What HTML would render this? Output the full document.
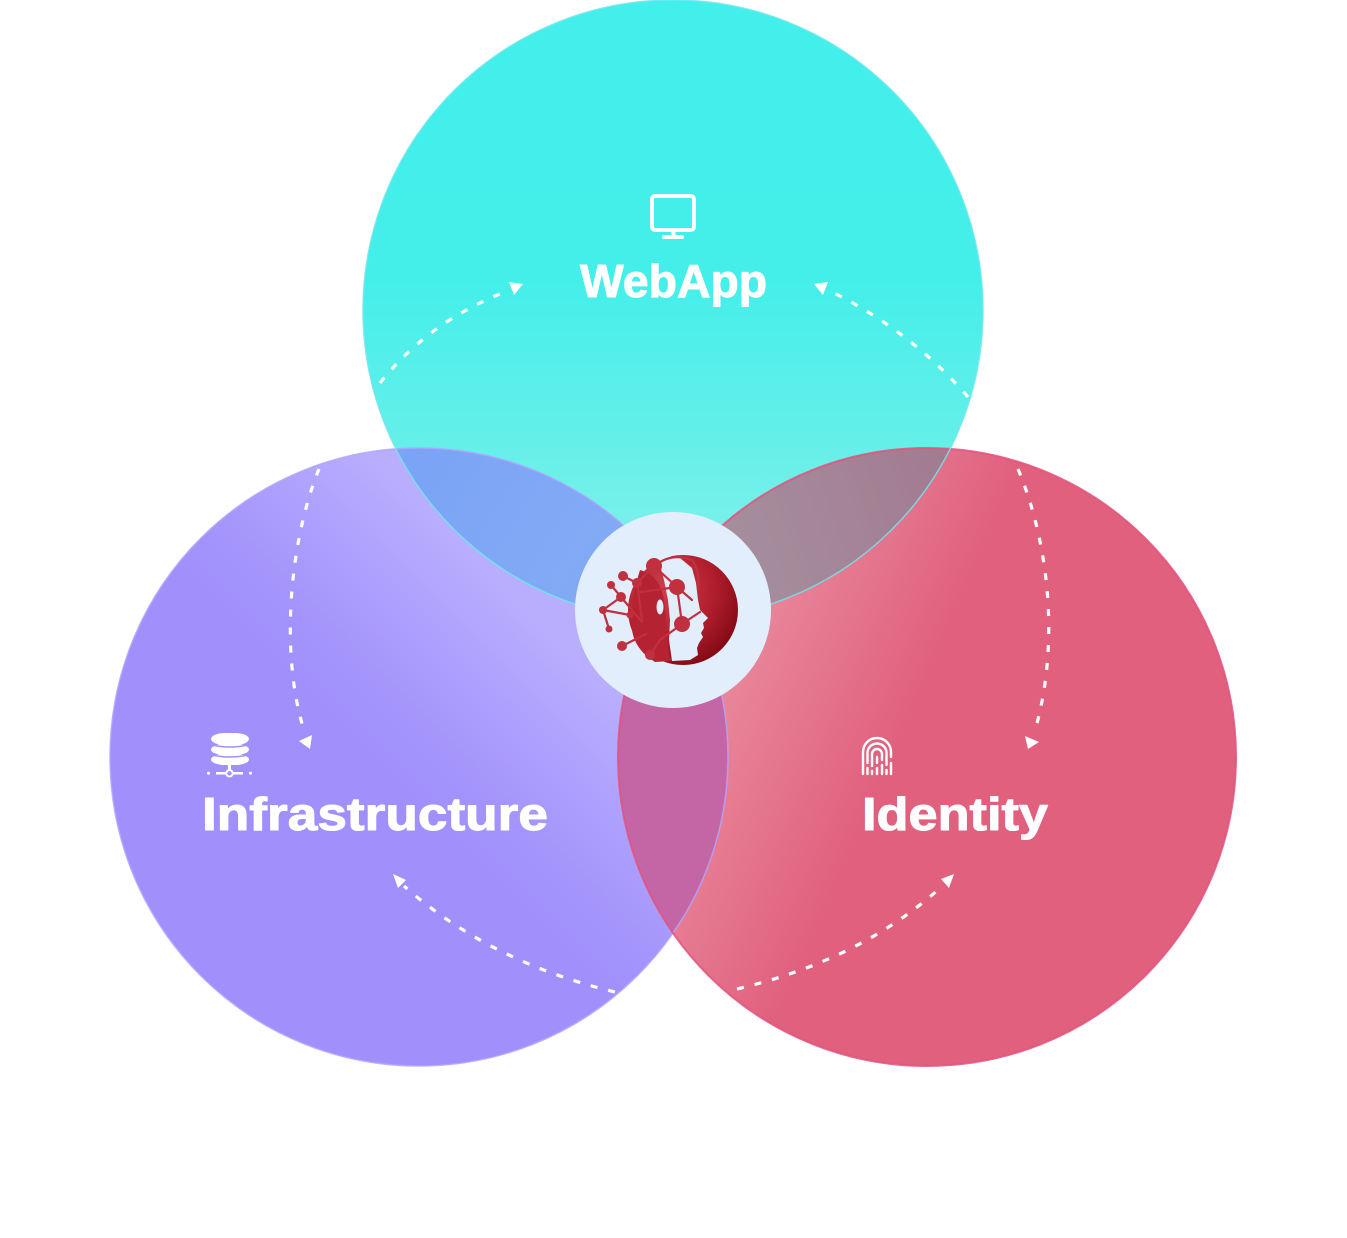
<!DOCTYPE html>
<html>
<head>
<meta charset="utf-8">
<style>
  html,body{margin:0;padding:0;background:#ffffff;}
  body{width:1347px;height:1238px;overflow:hidden;}
  svg{display:block;}
  .lbl{font-family:"Liberation Sans",Arial,sans-serif;font-weight:bold;fill:#ffffff;stroke:#ffffff;stroke-width:1;stroke-linejoin:round;}
</style>
</head>
<body>
<svg width="1347" height="1238" viewBox="0 0 1347 1238" xmlns="http://www.w3.org/2000/svg">
  <defs>
    <linearGradient id="gCyan" x1="0" y1="0" x2="0" y2="1">
      <stop offset="0" stop-color="#42EFEB"/>
      <stop offset="0.45" stop-color="#44EFEA"/>
      <stop offset="0.72" stop-color="#66EFE9"/>
      <stop offset="1" stop-color="#90F1EB"/>
    </linearGradient>
    <linearGradient id="gPurple" gradientUnits="userSpaceOnUse" x1="400" y1="800" x2="560" y2="640">
      <stop offset="0" stop-color="#A190FC"/>
      <stop offset="0.25" stop-color="#A393FC"/>
      <stop offset="1" stop-color="#B9AEFE"/>
    </linearGradient>
    <linearGradient id="gRed" gradientUnits="userSpaceOnUse" x1="700" y1="650" x2="902" y2="738">
      <stop offset="0" stop-color="#EA8EA0"/>
      <stop offset="1" stop-color="#E0607E"/>
    </linearGradient>
    <linearGradient id="gMauve" gradientUnits="userSpaceOnUse" x1="700" y1="560" x2="960" y2="470">
      <stop offset="0" stop-color="#A6919F"/>
      <stop offset="1" stop-color="#A27A8F"/>
    </linearGradient>
    <linearGradient id="gBlue" gradientUnits="userSpaceOnUse" x1="400" y1="450" x2="640" y2="600">
      <stop offset="0" stop-color="#7BA3F6"/>
      <stop offset="1" stop-color="#84ACF4"/>
    </linearGradient>
    <radialGradient id="gLogo" gradientUnits="userSpaceOnUse" cx="665" cy="590" r="80">
      <stop offset="0" stop-color="#D0404C"/>
      <stop offset="0.6" stop-color="#B11F2E"/>
      <stop offset="1" stop-color="#870A17"/>
    </radialGradient>
    <clipPath id="cCyan"><circle cx="673" cy="310" r="310"/></clipPath>
    <clipPath id="cPurple"><circle cx="419" cy="757" r="309"/></clipPath>
  </defs>

  <!-- base circles -->
  <circle cx="419" cy="757" r="309" fill="url(#gPurple)"/>
  <circle cx="927" cy="757" r="309" fill="url(#gRed)"/>
  <circle cx="673" cy="310" r="310" fill="url(#gCyan)"/>

  <!-- overlaps -->
  <g clip-path="url(#cCyan)">
    <circle cx="419" cy="757" r="309" fill="url(#gBlue)"/>
    <circle cx="927" cy="757" r="309" fill="url(#gMauve)"/>
  </g>
  <g clip-path="url(#cPurple)">
    <circle cx="927" cy="757" r="309" fill="#C466A6"/>
  </g>

  <!-- borders -->
  <circle cx="419" cy="757" r="309" fill="none" stroke="#B2A5FF" stroke-width="1.5" opacity="0.85"/>
  <circle cx="927" cy="757" r="309" fill="none" stroke="#E2527E" stroke-width="2" opacity="0.85"/>
  <circle cx="673" cy="310" r="310" fill="none" stroke="#6FE6EE" stroke-width="1.5" opacity="0.85"/>

  <!-- dashed connectors -->
  <g fill="none" stroke="#ffffff" stroke-width="3.2" stroke-dasharray="7 11">
    <path d="M380,383 Q430,320 510,290"/>
    <path d="M968,397 Q910,330 828,290"/>
    <path d="M319,469 C290,540 280,650 303,727"/>
    <path d="M1018,469 C1048,540 1060,640 1036,727"/>
    <path d="M615,992 Q490,962 404,886"/>
    <path d="M737,989 Q860,960 940,888"/>
  </g>
  <g fill="#ffffff">
    <polygon points="509,282 523,284 514,295"/>
    <polygon points="814,284 828,282 823,295"/>
    <polygon points="299,741 312,735 310,749"/>
    <polygon points="1025,736 1039,742 1028,749"/>
    <polygon points="393,874 406,880 398,888"/>
    <polygon points="941,879 954,874 949,888"/>
  </g>

  <!-- center circle -->
  <circle cx="673" cy="610" r="98" fill="#E2EEFC"/>

  <!-- logo -->
  <g>
    <circle cx="683" cy="610" r="55" fill="url(#gLogo)"/>
    <polygon fill="#E2EEFC" points="666,556 680,558 692,568 696,583 698,600 700,610 708,618 703,623 704,628 701,633 703,637 699,643 697,648 698,655 690,660 672,661 669,640 670,620 668,600 664,580 660,565 650,560 640,562"/>
    <path d="M640,570 Q660,575 664,600 L668,640 Q668,655 672,661 L655,662 Q635,650 632,630 Q630,600 640,570 Z" fill="#B52232"/>
    <ellipse cx="660" cy="607" rx="3.5" ry="7.5" fill="#E2EEFC"/>
    <g stroke="#C0303E" stroke-width="2.2" fill="none" stroke-linecap="round">
      <path d="M654,566 L677,587"/>
      <path d="M654,566 L637,583"/>
      <path d="M637,583 L623,576"/>
      <path d="M654,566 Q672,552 692,560 Q700,570 698,590"/>
      <path d="M677,587 L682,624"/>
      <path d="M677,587 L640,592"/>
      <path d="M677,587 L692,600"/>
      <path d="M621,597 L603,610"/>
      <path d="M603,610 L609,629"/>
      <path d="M611,585 L621,597"/>
      <path d="M621,597 L642,622"/>
      <path d="M603,610 L630,615"/>
      <path d="M622,646 L646,634"/>
      <path d="M682,624 L660,640"/>
      <path d="M637,583 L642,620"/>
      <path d="M650,655 L660,640"/>
      <path d="M682,624 L700,612"/>
    </g>
    <g fill="#C0303E">
      <circle cx="654" cy="566" r="8"/>
      <circle cx="677" cy="587" r="8"/>
      <circle cx="682" cy="624" r="8"/>
      <circle cx="623" cy="576" r="5"/>
      <circle cx="637" cy="583" r="5"/>
      <circle cx="611" cy="585" r="4"/>
      <circle cx="621" cy="597" r="5"/>
      <circle cx="603" cy="610" r="4"/>
      <circle cx="609" cy="629" r="3.5"/>
      <circle cx="622" cy="646" r="5"/>
      <circle cx="650" cy="655" r="5"/>
      <circle cx="630" cy="615" r="3.5"/>
    </g>
  </g>

  <!-- monitor icon -->
  <g fill="none" stroke="#ffffff">
    <rect x="652" y="196" width="42" height="34" rx="3" stroke-width="4"/>
  </g>
  <rect x="671.5" y="230" width="4" height="7" fill="#ffffff"/>
  <rect x="662" y="235" width="22" height="4" rx="2" fill="#ffffff"/>

  <!-- database icon -->
  <g fill="#ffffff">
    <rect x="211" y="733" width="38" height="12" rx="14" ry="6"/>
    <rect x="211" y="744" width="38" height="11" rx="14" ry="6"/>
    <rect x="211" y="754" width="38" height="11" rx="14" ry="6"/>
    <rect x="228" y="764" width="3" height="6"/>
    <rect x="216" y="772" width="10" height="2.5"/>
    <rect x="233" y="772" width="10" height="2.5"/>
    <circle cx="208.5" cy="773.3" r="1.5"/>
    <circle cx="250.5" cy="773.3" r="1.5"/>
  </g>
  <g stroke="#A190FC" stroke-width="1.5" fill="none">
    <path d="M212,745 Q230,749 248,745"/>
    <path d="M212,755 Q230,759 248,755"/>
  </g>
  <circle cx="229.5" cy="773.3" r="3.2" fill="none" stroke="#ffffff" stroke-width="2"/>

  <!-- fingerprint icon -->
  <g fill="none" stroke="#ffffff" stroke-width="2.4" stroke-linecap="round">
    <path d="M863,774 V752 A14,14 0 0 1 891,752 V757 M891,763 V774"/>
    <path d="M867.5,774 V768 M867.5,763 V753 A9.5,9.5 0 0 1 886.5,753 V765 M886.5,770 V774"/>
    <path d="M872,774 V771 M872,766 V754 A5,5 0 0 1 882,754 V760 M882,765 V774"/>
    <path d="M877,757 V763 M877,768 V774"/>
  </g>

  <!-- labels -->
  <text class="lbl" x="580" y="297" font-size="46" textLength="187" lengthAdjust="spacingAndGlyphs">WebApp</text>
  <text class="lbl" x="202" y="830" font-size="46" textLength="346" lengthAdjust="spacingAndGlyphs">Infrastructure</text>
  <text class="lbl" x="862" y="830" font-size="46" textLength="186" lengthAdjust="spacingAndGlyphs">Identity</text>
</svg>
</body>
</html>
